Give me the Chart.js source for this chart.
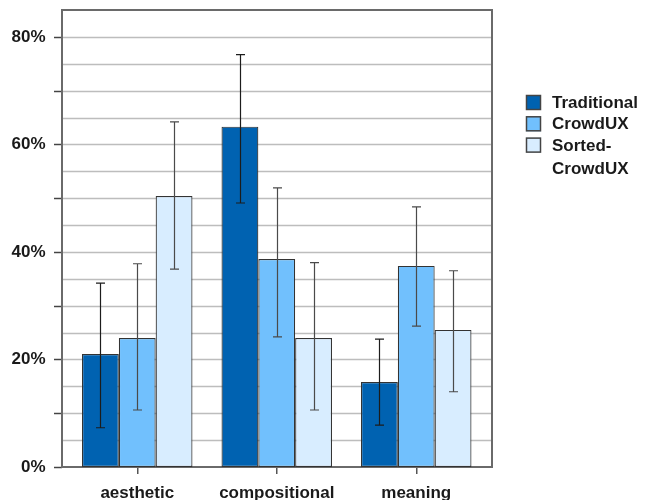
<!DOCTYPE html>
<html>
<head>
<meta charset="utf-8">
<script src="https://cdn.jsdelivr.net/npm/chart.js@4/dist/chart.umd.min.js"></script>
<style>
  html, body { margin: 0; padding: 0; background: #fff; }
  #wrap { width: 646px; height: 500px; }
</style>
</head>
<body>
<div id="wrap"><canvas id="chart" width="646" height="500"></canvas></div>
<script>
const categories = ["aesthetic", "compositional", "meaning"];
const seriesNames = ["Traditional", "CrowdUX", "Sorted-CrowdUX"];

const traditional = [21.0, 63.3, 15.8];
const crowdUX = [24.0, 38.7, 37.4];
const sortedCrowdUX = [50.4, 24.0, 25.5];

// error bar ends (low, high)
const traditionalLow = [7.3, 49.1, 7.8];
const traditionalHigh = [34.2, 76.7, 23.8];
const crowdUXLow = [10.6, 24.2, 26.2];
const crowdUXHigh = [37.8, 51.9, 48.4];
const sortedLow = [36.8, 10.6, 14.0];
const sortedHigh = [64.2, 38.0, 36.5];

const yTickLabels = [0, 20, 40, 60, 80];

const colors = ["#0062b1", "#71c0fd", "#d8edff"];
const font = { family: "'Liberation Sans', Arial, sans-serif", size: 17, weight: "bold" };

// frame sticks out a bit past the category band on each side
const frameLeftPad = 5.5;
const frameRightPad = 6;

const framePlugin = {
    id: "frame",
    beforeDatasetsDraw(chart) {
        const ctx = chart.ctx;
        const area = chart.chartArea;
        const y = chart.scales.y;
        const x0 = area.left - frameLeftPad;
        const x1 = area.right + frameRightPad;
        ctx.save();
        ctx.lineWidth = 1.5;
        ctx.strokeStyle = "#bdbdbd";
        for (let v = 5; v < 85; v += 5) {
            const py = Math.round(y.getPixelForValue(v)) + 0.5;
            ctx.beginPath();
            ctx.moveTo(x0, py);
            ctx.lineTo(x1, py);
            ctx.stroke();
        }
        ctx.lineWidth = 1.5;
        ctx.strokeStyle = "#444";
        for (let v = 0; v <= 80; v += 10) {
            const py = Math.round(y.getPixelForValue(v)) + 0.5;
            ctx.beginPath();
            ctx.moveTo(x0 - 8, py);
            ctx.lineTo(x0, py);
            ctx.stroke();
        }
        ctx.lineWidth = 2;
        ctx.strokeStyle = "#6a6a6a";
        ctx.strokeRect(x0, area.top, x1 - x0, area.bottom - area.top);
        ctx.restore();
    },
};

const errorBarPlugin = {
    id: "errorBars",
    afterDatasetsDraw(chart) {
        const ctx = chart.ctx;
        const y = chart.scales.y;
        ctx.save();
        chart.data.datasets.forEach((ds, di) => {
            const meta = chart.getDatasetMeta(di);
            meta.data.forEach((bar, i) => {
                const lo = y.getPixelForValue(ds.errLow[i]);
                const hi = y.getPixelForValue(ds.errHigh[i]);
                const cx = Math.round(bar.x) + 0.5;
                ctx.strokeStyle = di === 0 ? "#1c1c1c" : "#4a4a4a";
                ctx.lineWidth = 1.2;
                ctx.beginPath();
                ctx.moveTo(cx, lo);
                ctx.lineTo(cx, hi);
                ctx.moveTo(cx - 4.5, hi);
                ctx.lineTo(cx + 4.5, hi);
                ctx.moveTo(cx - 4.5, lo);
                ctx.lineTo(cx + 4.5, lo);
                ctx.stroke();
            });
        });
        ctx.restore();
    },
};

const legendPlugin = {
    id: "sideLegend",
    afterDraw(chart) {
        const ctx = chart.ctx;
        const left = 526;
        let top = 95;
        ctx.save();
        ctx.font = `${font.weight} ${font.size}px ${font.family}`;
        ctx.textBaseline = "alphabetic";
        chart.data.datasets.forEach((ds) => {
            ctx.fillStyle = ds.backgroundColor;
            ctx.fillRect(left, top, 15, 15);
            ctx.strokeStyle = "#444";
            ctx.lineWidth = 1.5;
            ctx.strokeRect(left + 0.5, top + 0.5, 14, 14);
            ctx.fillStyle = "#1a1a1a";
            const cut = ds.label.indexOf("-");
            const parts = cut >= 0 ? [ds.label.slice(0, cut + 1), ds.label.slice(cut + 1)] : [ds.label];
            parts.forEach((p, k) => {
                ctx.fillText(p, left + 26, top + 13 + k * 23);
            });
            top += 21.3;
        });
        ctx.restore();
    },
};

const datasets = [
    { label: seriesNames[0], data: traditional, errLow: traditionalLow, errHigh: traditionalHigh },
    { label: seriesNames[1], data: crowdUX, errLow: crowdUXLow, errHigh: crowdUXHigh },
    { label: seriesNames[2], data: sortedCrowdUX, errLow: sortedLow, errHigh: sortedHigh },
].map((d, i) => ({
    ...d,
    backgroundColor: colors[i],
    borderColor: "#333",
    borderWidth: 1.2,
    borderSkipped: false,
    categoryPercentage: 0.792,
    barPercentage: 1.0,
}));

new Chart(document.getElementById("chart"), {
    type: "bar",
    data: { labels: categories, datasets: datasets },
    options: {
        responsive: false,
        animation: false,
        layout: { padding: { left: 0, top: 10, right: 160, bottom: 0 } },
        plugins: {
            legend: { display: false },
            tooltip: { enabled: false },
        },
        scales: {
            x: {
                grid: {
                    display: true,
                    drawOnChartArea: false,
                    offset: false,
                    tickLength: 7,
                    tickColor: "#555",
                    lineWidth: 1.5,
                },
                border: { display: false },
                ticks: { font: font, color: "#1a1a1a", padding: 9, maxRotation: 0 },
                afterFit(scale) {
                    scale.height = 33;
                    scale.paddingLeft = 0;
                    scale.paddingRight = 0;
                },
            },
            y: {
                min: 0,
                max: 85,
                grid: { display: false, drawTicks: false },
                border: { display: false },
                ticks: {
                    stepSize: 5,
                    autoSkip: false,
                    font: font,
                    color: "#1a1a1a",
                    padding: 22,
                    callback: (v) => (yTickLabels.includes(v) ? v + "%" : ""),
                },
                afterFit(scale) {
                    scale.width = 67.5;
                    scale.paddingTop = 0;
                    scale.paddingBottom = 0;
                },
            },
        },
    },
    plugins: [framePlugin, errorBarPlugin, legendPlugin],
});
</script>
</body>
</html>
